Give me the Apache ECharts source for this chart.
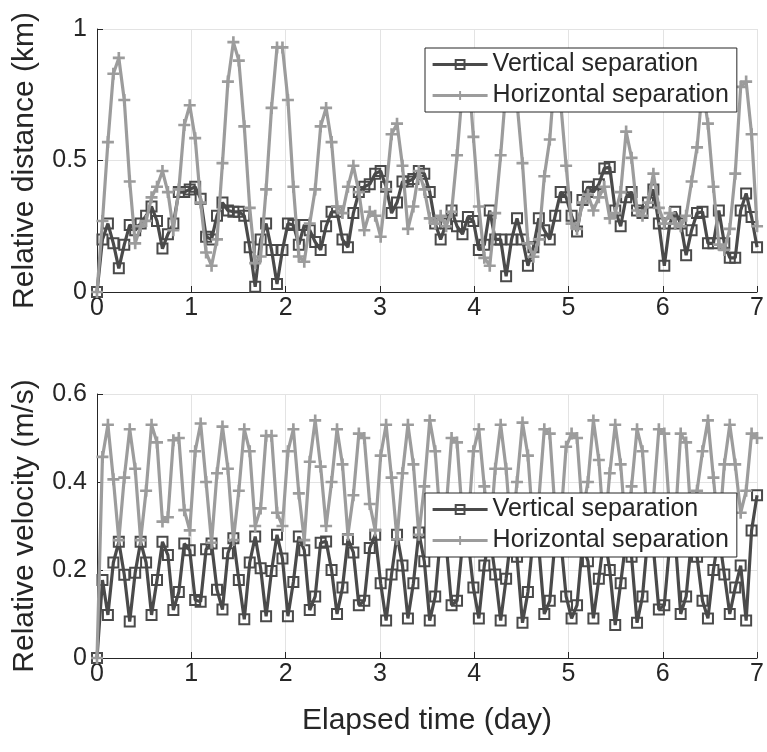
<!DOCTYPE html>
<html>
<head>
<meta charset="utf-8">
<script src="https://cdn.jsdelivr.net/npm/echarts@6/dist/echarts.min.js"></script>
<style>
  html, body { margin: 0; padding: 0; background: #fff; }
  #chart { width: 767px; height: 752px; }
</style>
</head>
<body>
<div id="chart"></div>
<script>
// sample times (day), one every 7/121 day
const timeDay = Array.from({ length: 122 }, (_, i) => +(i * 7 / 121).toFixed(4))

// relative distance (km)
const distVertical = [
  0, 0.20, 0.26, 0.185, 0.09, 0.18, 0.255, 0.235, 0.26, 0.29,
  0.325, 0.27, 0.165, 0.22, 0.26, 0.38, 0.38, 0.39, 0.40, 0.355,
  0.21, 0.20, 0.29, 0.34, 0.31, 0.305, 0.305, 0.29, 0.17, 0.02,
  0.20, 0.26, 0.16, 0.03, 0.16, 0.26, 0.255, 0.18, 0.255, 0.235,
  0.19, 0.16, 0.25, 0.305, 0.305, 0.20, 0.17, 0.30, 0.38, 0.40,
  0.41, 0.45, 0.46, 0.40, 0.30, 0.34, 0.42, 0.42, 0.43, 0.46,
  0.45, 0.38, 0.26, 0.20, 0.26, 0.31, 0.25, 0.22, 0.285, 0.27,
  0.16, 0.18, 0.31, 0.20, 0.20, 0.06, 0.20, 0.28, 0.20, 0.10,
  0.17, 0.28, 0.235, 0.20, 0.29, 0.38, 0.36, 0.29, 0.23, 0.35,
  0.40, 0.38, 0.41, 0.47, 0.475, 0.31, 0.25, 0.36, 0.38, 0.31,
  0.30, 0.34, 0.39, 0.26, 0.10, 0.26, 0.305, 0.26, 0.14, 0.235,
  0.30, 0.305, 0.185, 0.185, 0.31, 0.185, 0.13, 0.13, 0.31, 0.375,
  0.285, 0.17
]
const distHorizontal = [
  0, 0.27, 0.57, 0.83, 0.89, 0.73, 0.42, 0.185, 0.25, 0.27,
  0.36, 0.40, 0.46, 0.38, 0.235, 0.39, 0.635, 0.71, 0.585, 0.34,
  0.15, 0.10, 0.20, 0.49, 0.80, 0.95, 0.88, 0.63, 0.32, 0.11,
  0.135, 0.39, 0.70, 0.93, 0.93, 0.73, 0.40, 0.135, 0.115, 0.26,
  0.39, 0.63, 0.70, 0.57, 0.325, 0.30, 0.40, 0.48, 0.38, 0.235,
  0.305, 0.29, 0.21, 0.39, 0.60, 0.64, 0.48, 0.24, 0.325, 0.46,
  0.39, 0.28, 0.26, 0.29, 0.25, 0.305, 0.52, 0.77, 0.86, 0.59,
  0.325, 0.13, 0.10, 0.30, 0.52, 0.78, 0.86, 0.72, 0.49, 0.185,
  0.134, 0.20, 0.44, 0.58, 0.85, 0.72, 0.48, 0.26, 0.24, 0.34,
  0.37, 0.31, 0.36, 0.40, 0.28, 0.30, 0.38, 0.61, 0.51, 0.31,
  0.29, 0.34, 0.45, 0.32, 0.26, 0.30, 0.26, 0.25, 0.29, 0.42,
  0.55, 0.78, 0.64, 0.40, 0.18, 0.16, 0.24, 0.45, 0.78, 0.80,
  0.60, 0.25
]

// relative velocity (m/s)
const velVertical = [
  0, 0.177, 0.098, 0.217, 0.264, 0.189, 0.083, 0.194, 0.264, 0.217,
  0.098, 0.177, 0.264, 0.234, 0.109, 0.15, 0.26, 0.245, 0.132, 0.128,
  0.247, 0.26, 0.155, 0.11, 0.238, 0.272, 0.177, 0.088, 0.217, 0.276,
  0.204, 0.095, 0.198, 0.28, 0.226, 0.095, 0.173, 0.276, 0.245, 0.109,
  0.14, 0.262, 0.265, 0.20, 0.10, 0.16, 0.27, 0.24, 0.12, 0.13,
  0.25, 0.28, 0.17, 0.085, 0.19, 0.28, 0.21, 0.09, 0.17, 0.285,
  0.22, 0.085, 0.14, 0.28, 0.26, 0.12, 0.13, 0.26, 0.27, 0.16,
  0.09, 0.21, 0.28, 0.19, 0.085, 0.18, 0.29, 0.23, 0.08, 0.15,
  0.28, 0.25, 0.10, 0.13, 0.27, 0.27, 0.14, 0.09, 0.12, 0.26,
  0.22, 0.09, 0.18, 0.28, 0.20, 0.075, 0.17, 0.27, 0.23, 0.08,
  0.14, 0.28, 0.25, 0.11, 0.12, 0.26, 0.27, 0.10, 0.14, 0.27,
  0.23, 0.13, 0.09, 0.20, 0.28, 0.19, 0.10, 0.16, 0.21, 0.085,
  0.29, 0.37
]
const velHorizontal = [
  0, 0.457, 0.53, 0.406, 0.268, 0.41, 0.52, 0.43, 0.268, 0.38,
  0.53, 0.49, 0.31, 0.32, 0.495, 0.50, 0.336, 0.29, 0.47, 0.533,
  0.40, 0.262, 0.42, 0.526, 0.43, 0.268, 0.38, 0.52, 0.47, 0.30,
  0.34, 0.505, 0.505, 0.33, 0.30, 0.47, 0.52, 0.374, 0.268, 0.446,
  0.54, 0.435, 0.30, 0.40, 0.52, 0.44, 0.28, 0.37, 0.51, 0.50,
  0.35, 0.29, 0.46, 0.53, 0.41, 0.27, 0.42, 0.53, 0.44, 0.28,
  0.39, 0.54, 0.47, 0.30, 0.34, 0.50, 0.49, 0.32, 0.30, 0.47,
  0.52, 0.39, 0.27, 0.43, 0.53, 0.43, 0.27, 0.40, 0.535, 0.46,
  0.29, 0.36, 0.52, 0.51, 0.33, 0.31, 0.48, 0.51, 0.50, 0.33,
  0.40, 0.54, 0.45, 0.28, 0.42, 0.53, 0.44, 0.28, 0.39, 0.52,
  0.47, 0.30, 0.36, 0.52, 0.51, 0.33, 0.31, 0.51, 0.49, 0.30,
  0.38, 0.47, 0.54, 0.41, 0.28, 0.44, 0.53, 0.44, 0.33, 0.38,
  0.51, 0.50
]

const seriesNames = ['Vertical separation', 'Horizontal separation']
const xTitle = 'Elapsed time (day)'
const yTitles = ['Relative distance (km)', 'Relative velocity (m/s)']

const font = 'Liberation Sans, Arial, Helvetica, sans-serif'
const darkGray = '#4a4a4a'
const lightGray = '#9c9c9c'
const axisColor = '#262626'
const plusSymbol = 'path://M3.9,0H6.1V3.9H10V6.1H6.1V10H3.9V6.1H0V3.9H3.9Z'

const toPairs = (ys) => ys.map((v, i) => [timeDay[i], v])

function makeX(gridIndex, withName) {
  return {
    type: 'value',
    gridIndex: gridIndex,
    min: 0,
    max: 7,
    interval: 1,
    name: withName ? xTitle : '',
    nameLocation: 'middle',
    nameGap: 48,
    nameTextStyle: { fontSize: 30, color: axisColor, fontFamily: font },
    axisLine: { show: true, onZero: false, lineStyle: { color: axisColor, width: 1 } },
    axisTick: { show: true, inside: true, length: 6, lineStyle: { color: axisColor } },
    axisLabel: { fontSize: 25, color: axisColor, fontFamily: font, margin: 4 },
    splitLine: { show: true, lineStyle: { color: '#e3e3e3', width: 1 } }
  }
}

function makeY(gridIndex, max, step, title) {
  return {
    type: 'value',
    gridIndex: gridIndex,
    min: 0,
    max: max,
    interval: step,
    name: title,
    nameLocation: 'middle',
    nameRotate: 90,
    nameGap: 57,
    nameTextStyle: { fontSize: 30, color: axisColor, fontFamily: font },
    axisLine: { show: true, lineStyle: { color: axisColor, width: 1 } },
    axisTick: { show: true, inside: true, length: 6, lineStyle: { color: axisColor } },
    axisLabel: { fontSize: 25, color: axisColor, fontFamily: font, margin: 10 },
    splitLine: { show: true, lineStyle: { color: '#e3e3e3', width: 1 } }
  }
}

function makeLegend(top) {
  return {
    top: top,
    left: 425,
    orient: 'vertical',
    data: seriesNames,
    selectedMode: false,
    backgroundColor: '#fff',
    borderColor: axisColor,
    borderWidth: 1,
    borderRadius: 0,
    padding: [4, 8, 4, 6],
    itemGap: 6,
    itemWidth: 55,
    itemHeight: 11,
    lineStyle: { width: 3.2 },
    textStyle: { fontSize: 25, color: axisColor, fontFamily: font }
  }
}

function vertSeries(idx, ys) {
  return {
    name: seriesNames[0],
    type: 'line',
    xAxisIndex: idx,
    yAxisIndex: idx,
    data: toPairs(ys),
    symbol: 'rect',
    symbolSize: 10,
    lineStyle: { color: darkGray, width: 3.2 },
    itemStyle: { color: 'rgba(255,255,255,0)', borderColor: darkGray, borderWidth: 2 },
    z: 2
  }
}

function horizSeries(idx, ys) {
  return {
    name: seriesNames[1],
    type: 'line',
    xAxisIndex: idx,
    yAxisIndex: idx,
    data: toPairs(ys),
    symbol: plusSymbol,
    symbolSize: 12,
    lineStyle: { color: lightGray, width: 3.2 },
    itemStyle: { color: lightGray },
    z: 3
  }
}

const mChart = echarts.init(document.getElementById('chart'))
const option = {
  animation: false,
  backgroundColor: '#fff',
  grid: [
    { left: 97, top: 29, width: 661, height: 263 },
    { left: 97, top: 394, width: 661, height: 264 }
  ],
  legend: [makeLegend(48), makeLegend(493)],
  xAxis: [makeX(0, false), makeX(1, true)],
  yAxis: [makeY(0, 1, 0.5, yTitles[0]), makeY(1, 0.6, 0.2, yTitles[1])],
  series: [
    vertSeries(0, distVertical),
    horizSeries(0, distHorizontal),
    vertSeries(1, velVertical),
    horizSeries(1, velHorizontal)
  ]
}
mChart.setOption(option)
window.addEventListener('resize', function () {
  mChart.resize()
})
</script>
</body>
</html>
